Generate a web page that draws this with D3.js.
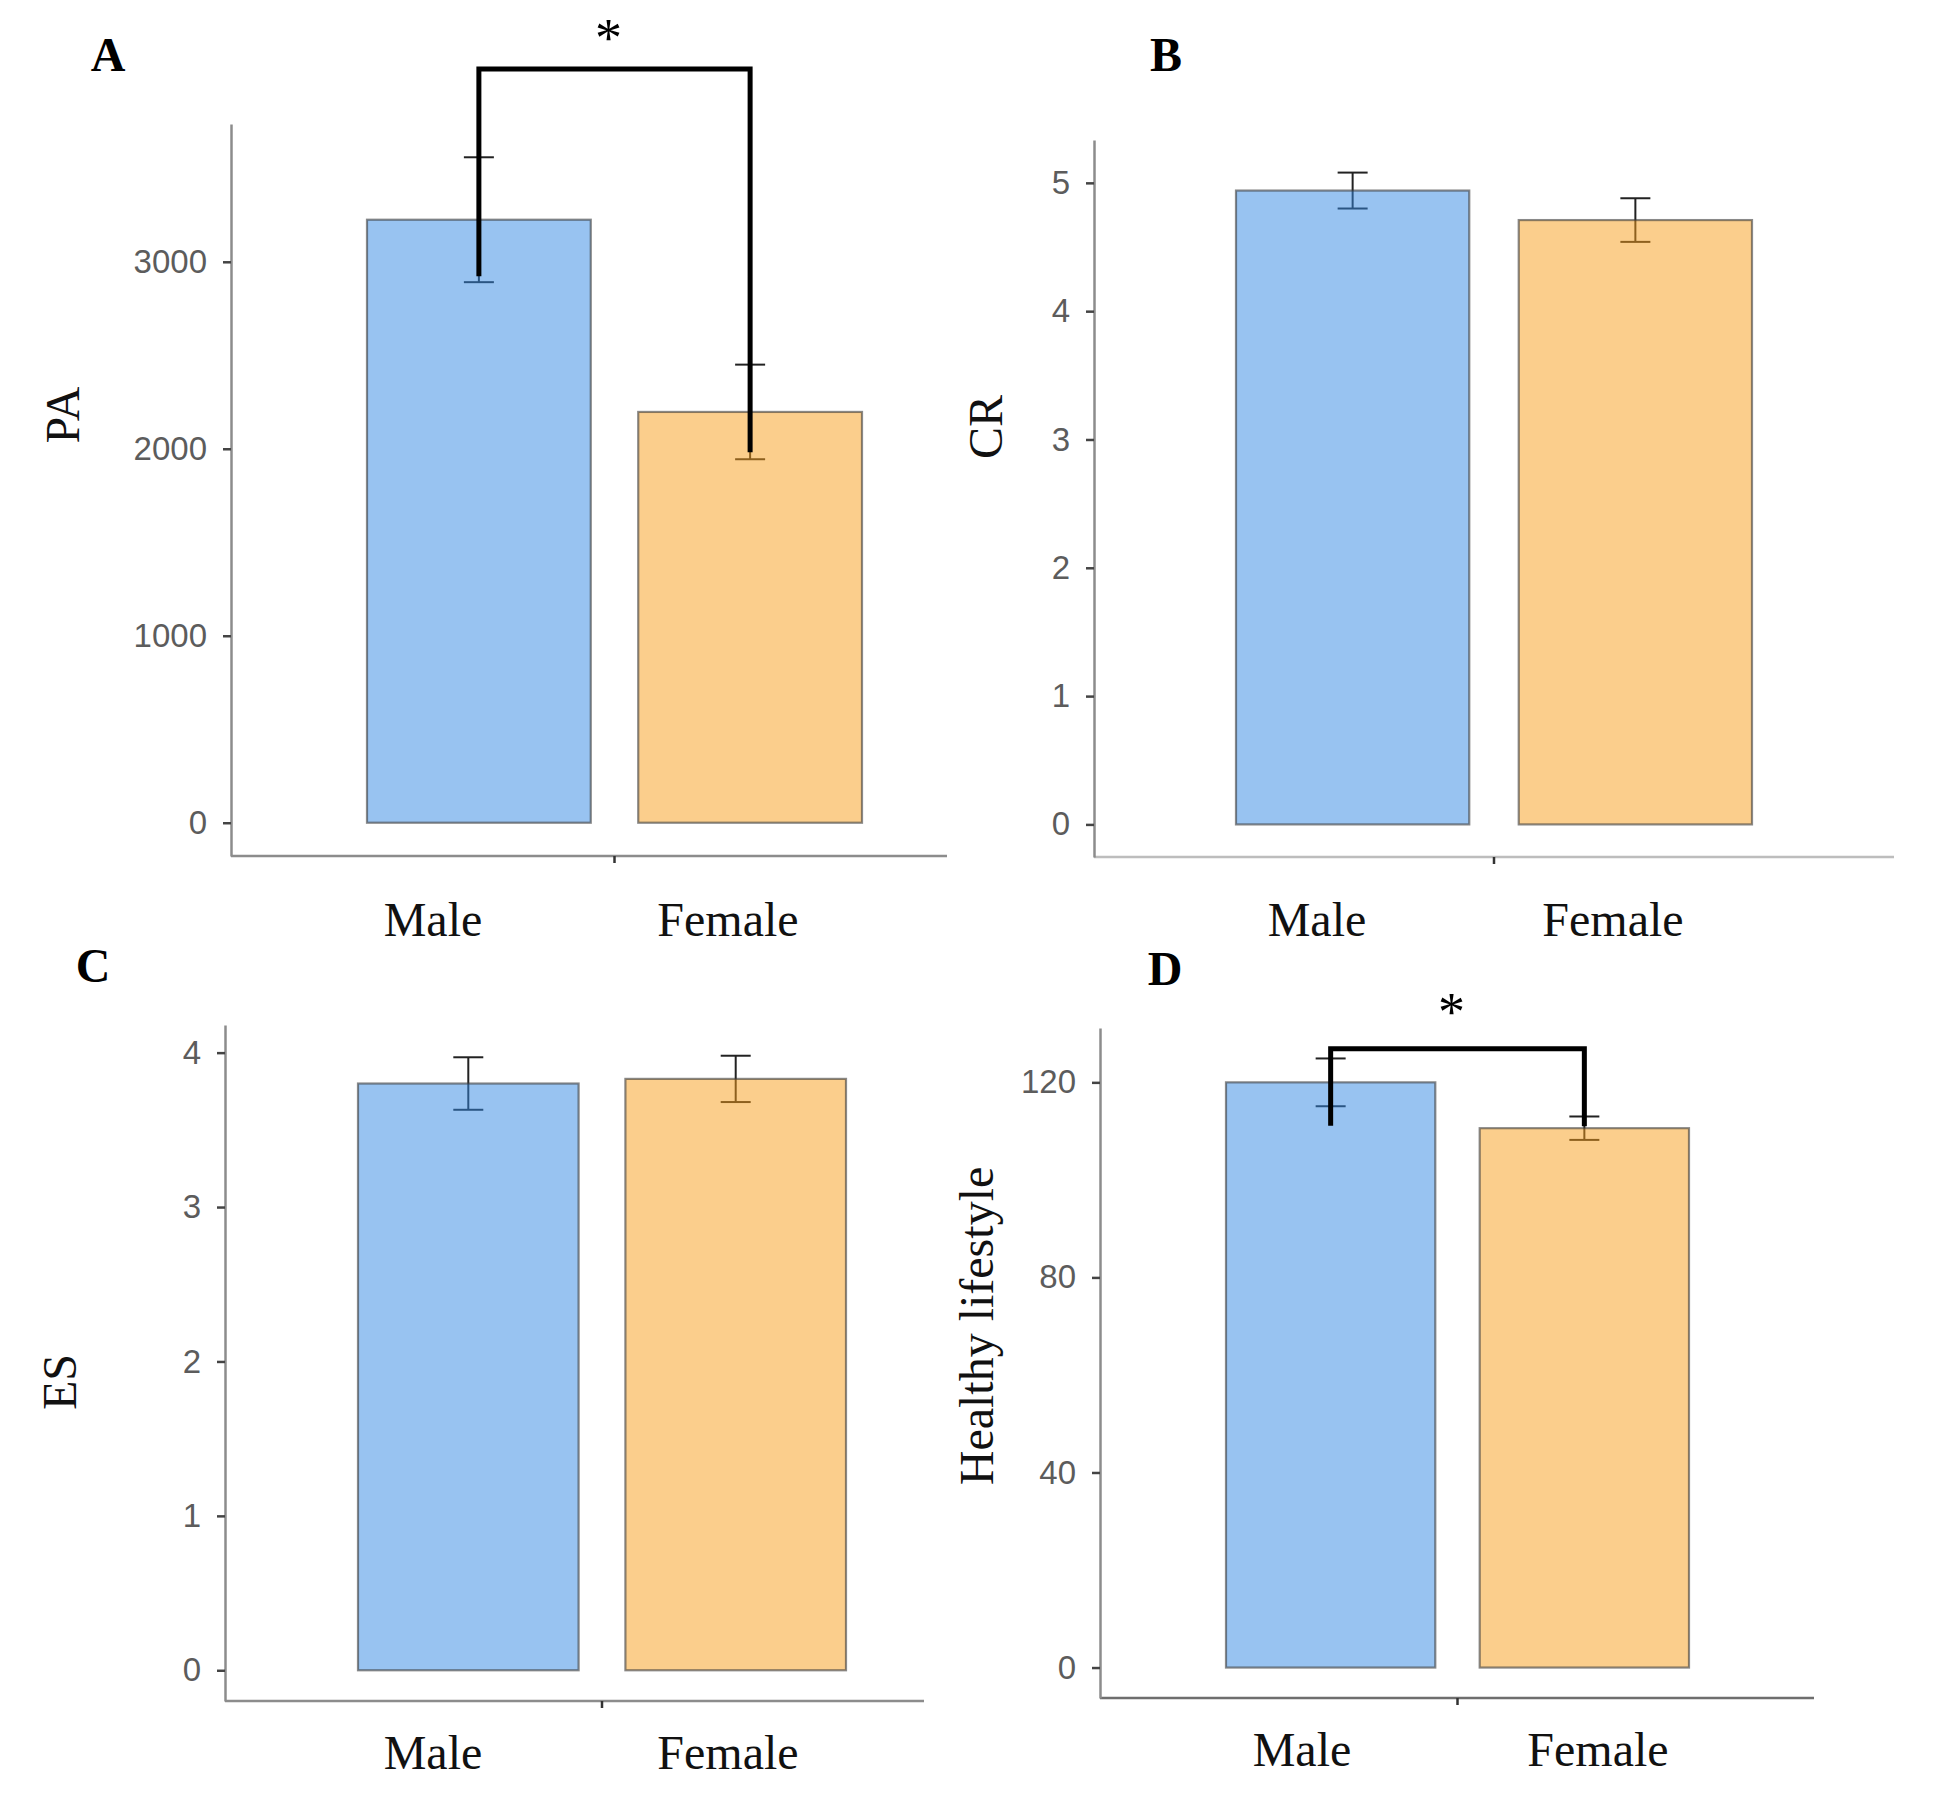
<!DOCTYPE html>
<html>
<head>
<meta charset="utf-8">
<script src="https://cdn.jsdelivr.net/npm/d3@7"></script>
<style>
  body { margin: 0; background: #fff; }
  svg { display: block; }
</style>
</head>
<body>
<svg id="chart" width="1942" height="1808"></svg>
<script>
/* Data */
const categories = ["Male", "Female"];
const paMean = [3225, 2197];
const paErr = [334, 253];
const crMean = [4.94, 4.71];
const crErr = [0.14, 0.17];
const esMean = [3.80, 3.83];
const esErr = [0.17, 0.15];
const hlMean = [120.0, 110.6];
const hlErr = [4.9, 2.4];

const paTicks = [0, 1000, 2000, 3000];
const crTicks = [0, 1, 2, 3, 4, 5];
const esTicks = [0, 1, 2, 3, 4];
const hlTicks = [0, 40, 80, 120];

// significance bracket: top, left end, right end (data units)
const paSig = [4031, 2923, 1981];
const hlSig = [126.9, 111.1, 111.0];

const fills = ["#3187E3", "#F79D19"];
const SERIF = '"Liberation Serif", "Times New Roman", serif';
const SANS = '"Liberation Sans", Arial, sans-serif';

/* Layout of the four panels */
const panels = [
	{ tag: "A", title: "PA", mean: paMean, err: paErr, ticks: paTicks, sig: paSig, starDy: -13,
		axisX: [231, 947], axisY: [856, 124], bars: [367, 862], xAxisColor: "#8c8c8c",
		tagPos: [108, 71], titlePos: [62, 415], labelX: [433, 728], labelY: 936 },
	{ tag: "B", title: "CR", mean: crMean, err: crErr, ticks: crTicks, sig: null,
		axisX: [1094, 1894], axisY: [857, 140], bars: [1236, 1752], xAxisColor: "#bdbdbd",
		tagPos: [1166, 71], titlePos: [985, 427], labelX: [1317, 1613], labelY: 936 },
	{ tag: "C", title: "ES", mean: esMean, err: esErr, ticks: esTicks, sig: null,
		axisX: [225, 924], axisY: [1701, 1025], bars: [358, 846], xAxisColor: "#8c8c8c",
		tagPos: [93, 982], titlePos: [59, 1382], labelX: [433, 728], labelY: 1769 },
	{ tag: "D", title: "Healthy lifestyle", mean: hlMean, err: hlErr, ticks: hlTicks, sig: hlSig, starDy: -19,
		axisX: [1100, 1814], axisY: [1698, 1028], bars: [1226, 1689], xAxisColor: "#6e6e6e",
		tagPos: [1165, 985], titlePos: [976, 1326], labelX: [1302, 1598], labelY: 1766 }
];

const svg = d3.select('#chart');
svg.append('rect').attr('width', 1942).attr('height', 1808).attr('fill', '#fff');

function drawPanel(p) {
	const g = svg.append('g');
	const rows = categories.map((c, i) => ({ cat: c, mean: p.mean[i], err: p.err[i], i: i }));

	// ggplot-like 5% expansion
	const top = d3.max(rows, (d) => d.mean + d.err);
	const pad = top * 0.05;
	const y = d3.scaleLinear().domain([-pad, top + pad]).range(p.axisY);
	const x = d3.scaleBand().domain(categories).range(p.bars).paddingInner(0.175).paddingOuter(0);
	const cx = (d) => x(d.cat) + x.bandwidth() / 2;

	// x axis line + single centre tick
	g.append('line')
		.attr('x1', p.axisX[0]).attr('x2', p.axisX[1])
		.attr('y1', p.axisY[0]).attr('y2', p.axisY[0])
		.attr('stroke', p.xAxisColor).attr('stroke-width', 2.5);
	const mid = (p.bars[0] + p.bars[1]) / 2;
	g.append('line')
		.attr('x1', mid).attr('x2', mid)
		.attr('y1', p.axisY[0]).attr('y2', p.axisY[0] + 7)
		.attr('stroke', '#333').attr('stroke-width', 2.5);

	// y axis
	const yAxis = g.append('g')
		.attr('transform', `translate(${p.axisX[0]},0)`)
		.call(d3.axisLeft(y).tickValues(p.ticks).tickFormat(d3.format('d'))
			.tickSize(8).tickSizeOuter(0).tickPadding(16));
	yAxis.select('.domain').attr('stroke', '#8c8c8c').attr('stroke-width', 2.5);
	yAxis.selectAll('.tick line').attr('stroke', '#444').attr('stroke-width', 2.5);
	yAxis.selectAll('.tick text')
		.attr('font-family', SANS).attr('font-size', 33).attr('fill', '#5c5c5c');

	// error bars sit under the translucent bars
	const eb = g.append('g').attr('stroke', '#222').attr('stroke-width', 2);
	eb.selectAll('line.v').data(rows).join('line')
		.attr('x1', cx).attr('x2', cx)
		.attr('y1', (d) => y(d.mean + d.err)).attr('y2', (d) => y(d.mean - d.err));
	eb.selectAll('line.hi').data(rows).join('line')
		.attr('x1', (d) => cx(d) - 15).attr('x2', (d) => cx(d) + 15)
		.attr('y1', (d) => y(d.mean + d.err)).attr('y2', (d) => y(d.mean + d.err));
	eb.selectAll('line.lo').data(rows).join('line')
		.attr('x1', (d) => cx(d) - 15).attr('x2', (d) => cx(d) + 15)
		.attr('y1', (d) => y(d.mean - d.err)).attr('y2', (d) => y(d.mean - d.err));

	g.selectAll('rect.bar').data(rows).join('rect')
		.attr('x', (d) => x(d.cat))
		.attr('width', x.bandwidth())
		.attr('y', (d) => y(d.mean))
		.attr('height', (d) => y(0) - y(d.mean))
		.attr('fill', (d) => fills[d.i]).attr('fill-opacity', 0.5)
		.attr('stroke', '#3a3a3a').attr('stroke-opacity', 0.6).attr('stroke-width', 2.2);

	// significance bracket
	if (p.sig) {
		const xl = cx(rows[0]), xr = cx(rows[1]);
		g.append('path')
			.attr('d', `M${xl},${y(p.sig[1])}V${y(p.sig[0])}H${xr}V${y(p.sig[2])}`)
			.attr('fill', 'none').attr('stroke', '#000').attr('stroke-width', 5)
			.attr('stroke-linejoin', 'miter');
		g.append('text')
			.attr('x', mid - 6).attr('y', y(p.sig[0]) + p.starDy)
			.attr('text-anchor', 'middle')
			.attr('font-family', SERIF).attr('font-size', 54)
			.text('*');
	}

	// category labels under the axis
	g.selectAll('text.cat').data(rows).join('text')
		.attr('x', (d) => p.labelX[d.i]).attr('y', p.labelY)
		.attr('text-anchor', 'middle')
		.attr('font-family', SERIF).attr('font-size', 48).attr('fill', '#111')
		.text((d) => d.cat);

	// y title
	g.append('text')
		.attr('transform', `translate(${p.titlePos[0]},${p.titlePos[1]}) rotate(-90)`)
		.attr('text-anchor', 'middle').attr('dominant-baseline', 'central')
		.attr('font-family', SERIF).attr('font-size', 48).attr('fill', '#111')
		.text(p.title);

	// panel tag
	g.append('text')
		.attr('x', p.tagPos[0]).attr('y', p.tagPos[1])
		.attr('text-anchor', 'middle')
		.attr('font-family', SERIF).attr('font-size', 48).attr('font-weight', 'bold')
		.text(p.tag);
}

panels.forEach(drawPanel);
</script>
</body>
</html>
